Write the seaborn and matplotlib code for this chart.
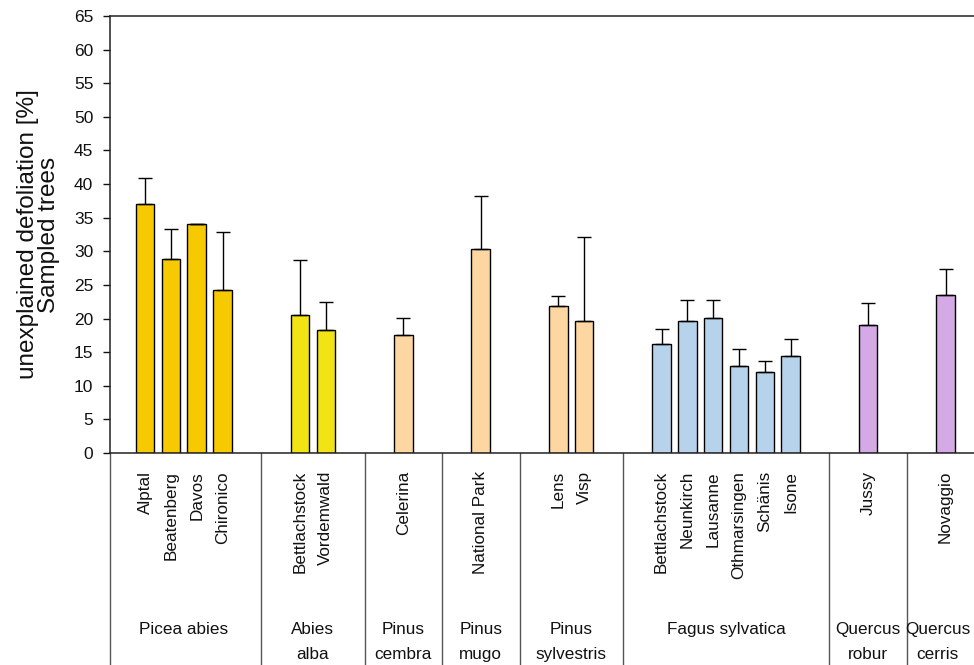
import numpy as np
import pandas as pd
import matplotlib
matplotlib.use("Agg")
import matplotlib.pyplot as plt
import matplotlib.transforms as mtransforms
import seaborn as sns

# data
species = ["Picea abies", "Abies alba", "Pinus cembra", "Pinus mugo",
           "Pinus sylvestris", "Fagus sylvatica", "Quercus robur", "Quercus cerris"]
species_lines = [["Picea abies"], ["Abies", "alba"], ["Pinus", "cembra"], ["Pinus", "mugo"],
                 ["Pinus", "sylvestris"], ["Fagus sylvatica"], ["Quercus", "robur"], ["Quercus", "cerris"]]
sites = [["Alptal", "Beatenberg", "Davos", "Chironico"],
         ["Bettlachstock", "Vordemwald"],
         ["Celerina"],
         ["National Park"],
         ["Lens", "Visp"],
         ["Bettlachstock", "Neunkirch", "Lausanne", "Othmarsingen", "Schänis", "Isone"],
         ["Jussy"],
         ["Novaggio"]]
means = [[37.0, 28.9, 34.0, 24.2],
         [20.5, 18.3],
         [17.6],
         [30.4],
         [21.8, 19.6],
         [16.2, 19.6, 20.1, 13.0, 12.0, 14.4],
         [19.1],
         [23.5]]
errors = [[3.9, 4.4, 0.1, 8.6],
          [8.2, 4.2],
          [2.5],
          [7.8],
          [1.5, 12.5],
          [2.2, 3.2, 2.7, 2.4, 1.7, 2.5],
          [3.2],
          [3.9]]
colors = {"Picea abies": "#F7C900", "Abies alba": "#F2E414", "Pinus cembra": "#FDD6A1",
          "Pinus mugo": "#FDD6A1", "Pinus sylvestris": "#FDD6A1", "Fagus sylvatica": "#B7D3EC",
          "Quercus robur": "#D5A9E5", "Quercus cerris": "#D5A9E5"}

# build slot order with two empty slots between species
rows = []
order = []
labels = []
groups = []  # (first slot, last slot)
for i, sp in enumerate(species):
    first = len(order)
    for s, m, e in zip(sites[i], means[i], errors[i]):
        key = sp + "|" + s
        rows.append({"slot": key, "value": m, "err": e, "species": sp})
        order.append(key)
        labels.append(s)
    groups.append((first, len(order) - 1))
    if i < len(species) - 1:
        for g in range(2):
            order.append("gap%d_%d" % (i, g))
            labels.append("")
df = pd.DataFrame(rows)

sns.set_theme(style="white")
plt.rcParams["font.family"] = ["Liberation Sans", "DejaVu Sans"]

fig = plt.figure(figsize=(9.74, 6.65), dpi=100)
ax = fig.add_axes([0.1129, 0.3188, 0.8871, 0.6572])

sns.barplot(data=df, x="slot", y="value", order=order, hue="species", palette=colors,
            dodge=False, legend=False, errorbar=None, width=0.72, saturation=1,
            edgecolor="black", linewidth=1.0, ax=ax)

xpos = [order.index(k) for k in df["slot"]]
ax.errorbar(xpos, df["value"], yerr=[np.zeros(len(df)), df["err"]], fmt="none",
            ecolor="black", elinewidth=1.0, capsize=4.7, capthick=1.0, zorder=3)

ax.set_xlim(-1.36, 32.1)
ax.set_ylim(0, 65)
ax.set_yticks(np.arange(0, 66, 5))
ax.tick_params(axis="y", left=True, length=5, width=1, pad=7, labelsize=12.5, colors="#111111")
ax.set_xticks(range(len(order)))
ax.set_xticklabels(labels, rotation=90, fontsize=12.3, color="#111111")
ax.tick_params(axis="x", bottom=False, length=0, pad=13)
ax.set_xlabel("")
ax.set_ylabel("unexplained defoliation [%]\nSampled trees", fontsize=17.5, linespacing=0.95,
              labelpad=10, color="#111111")

for side in ["left", "top", "bottom"]:
    ax.spines[side].set_visible(True)
    ax.spines[side].set_color("#222222")
    ax.spines[side].set_linewidth(1.1)
ax.spines["right"].set_visible(False)

# category table below the axis
trans = mtransforms.blended_transform_factory(ax.transData, ax.transAxes)
ax.plot([-1.36, -1.36], [0, -0.5], transform=trans, color="#555555", lw=1.0, clip_on=False)
for (first, last) in groups[:-1]:
    xb = last + 1.5
    ax.plot([xb, xb], [0, -0.5], transform=trans, color="#555555", lw=1.0, clip_on=False)
for k, ((first, last), lines) in enumerate(zip(groups, species_lines)):
    xc = (first + last) / 2
    if k == len(groups) - 1:
        xc -= 0.3  # keep the last label inside the figure edge
    for j, line in enumerate(lines):
        ax.text(xc, -0.405 - 0.057 * j, line, transform=trans, ha="center", va="center",
                fontsize=12.3, color="#111111", clip_on=False)

fig.savefig("out.png", dpi=100)
